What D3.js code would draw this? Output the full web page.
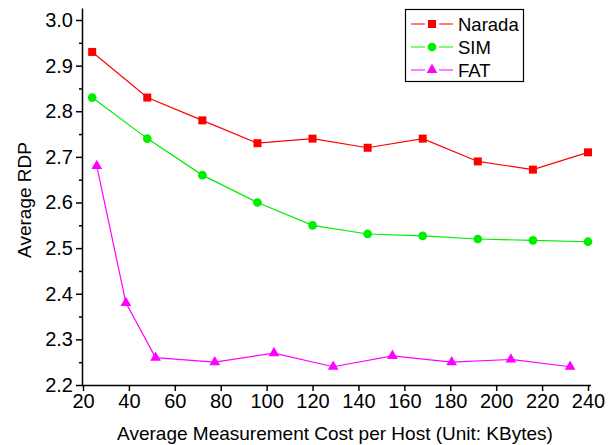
<!DOCTYPE html>
<html>
<head>
<meta charset="utf-8">
<script src="https://cdn.jsdelivr.net/npm/d3@7"></script>
<style>
  body { margin: 0; background: #fff; }
  svg { display: block; font-family: "Liberation Sans", Arial, sans-serif; }
</style>
</head>
<body>
<div id="chart"></div>
<script>
// data
var costX = [24, 48, 72, 96, 120, 144, 168, 192, 216, 240];
var narada = [2.93, 2.83, 2.78, 2.73, 2.74, 2.72, 2.74, 2.69, 2.672, 2.71];
var sim = [2.83, 2.74, 2.66, 2.60, 2.55, 2.531, 2.527, 2.52, 2.517, 2.514];
var fatX = [26, 38.7, 51.6, 77.4, 103.2, 129, 154.8, 180.6, 206.4, 232.2];
var fat = [2.68, 2.38, 2.26, 2.25, 2.27, 2.24, 2.264, 2.25, 2.256, 2.24];
var xTicks = [20, 40, 60, 80, 100, 120, 140, 160, 180, 200, 220, 240];
var yTicks = [2.2, 2.3, 2.4, 2.5, 2.6, 2.7, 2.8, 2.9, 3.0];
var seriesNames = ["Narada", "SIM", "FAT"];

var W = 613, H = 445;
var mLeft = 83, mRight = 588, mTop = 20, mBottom = 385;

var svg = d3.select("#chart").append("svg")
    .attr("width", W)
    .attr("height", H);

var x = d3.scaleLinear().domain([20, 240]).range([mLeft, mRight]);
var y = d3.scaleLinear().domain([2.2, 3.0]).range([mBottom, mTop]);

// x axis
var xAxis = svg.append("g")
    .attr("transform", "translate(0," + mBottom + ")")
    .call(d3.axisBottom(x).tickValues(xTicks).tickSize(6).tickPadding(3).tickSizeOuter(0));
xAxis.select(".domain").attr("d", "M" + mLeft + ",0.5H" + (mRight + 3));

// y axis, major and minor ticks
var yAxis = svg.append("g")
    .attr("transform", "translate(" + mLeft + ",0)")
    .call(d3.axisLeft(y).tickValues(yTicks).tickFormat(d3.format(".1f")).tickSize(7).tickPadding(3).tickSizeOuter(0));
yAxis.select(".domain").attr("d", "M-0.5," + (mBottom + 0.5) + "V" + (y(3.025)));

var minor = d3.range(2.25, 3.0, 0.1);
svg.append("g")
    .attr("transform", "translate(" + mLeft + ",0)")
    .call(d3.axisLeft(y).tickValues(minor).tickSize(4).tickFormat(""))
    .select(".domain").remove();

svg.selectAll(".tick text")
    .attr("font-size", 20)
    .attr("fill", "#000")
    .attr("font-family", "Liberation Sans, Arial, sans-serif");
svg.selectAll(".domain, .tick line").attr("stroke", "#000").attr("stroke-width", 1.5);

// axis titles
svg.append("text")
    .attr("x", 335)
    .attr("y", 440)
    .attr("text-anchor", "middle")
    .attr("font-size", 19)
    .text("Average Measurement Cost per Host (Unit: KBytes)");

svg.append("text")
    .attr("transform", "translate(31," + 200 + ") rotate(-90)")
    .attr("text-anchor", "middle")
    .attr("font-size", 19)
    .text("Average RDP");

var line = d3.line()
    .x(function (d) { return x(d[0]); })
    .y(function (d) { return y(d[1]); });

var series = [
    { name: seriesNames[0], xs: costX, ys: narada, color: "#ff0000", shape: d3.symbolSquare, size: 64 },
    { name: seriesNames[1], xs: costX, ys: sim, color: "#00ee00", shape: d3.symbolCircle, size: 60 },
    { name: seriesNames[2], xs: fatX, ys: fat, color: "#ff00ff", shape: d3.symbolTriangle, size: 50 }
];

series.forEach(function (s) {
    var pts = s.xs.map(function (v, i) { return [v, s.ys[i]]; });
    svg.append("path")
        .attr("d", line(pts))
        .attr("fill", "none")
        .attr("stroke", s.color)
        .attr("stroke-width", 1.2);
    svg.selectAll(null)
        .data(pts)
        .enter()
        .append("path")
        .attr("d", d3.symbol().type(s.shape).size(s.size))
        .attr("transform", function (d) { return "translate(" + x(d[0]) + "," + y(d[1]) + ")"; })
        .attr("fill", s.color);
});

// legend
var lg = svg.append("g");
lg.append("rect")
    .attr("x", 405.5).attr("y", 9.5)
    .attr("width", 118).attr("height", 72)
    .attr("fill", "#fff")
    .attr("stroke", "#000")
    .attr("stroke-width", 1.2);

series.forEach(function (s, i) {
    var ly = 24 + i * 23;
    lg.append("line")
        .attr("x1", 411).attr("x2", 453)
        .attr("y1", ly).attr("y2", ly)
        .attr("stroke", s.color)
        .attr("stroke-width", 1.2);
    lg.append("rect")
        .attr("x", 425).attr("y", ly - 1)
        .attr("width", 14).attr("height", 3)
        .attr("fill", "#fff");
    lg.append("path")
        .attr("d", d3.symbol().type(s.shape).size(s.size))
        .attr("transform", "translate(432," + ly + ")")
        .attr("fill", s.color);
    lg.append("text")
        .attr("x", 458)
        .attr("y", ly + 6.5)
        .attr("font-size", 18.5)
        .text(s.name);
});
</script>
</body>
</html>
